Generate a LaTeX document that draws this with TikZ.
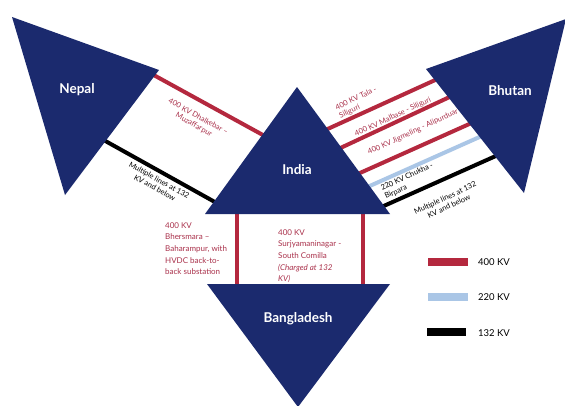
\documentclass[tikz,border=0pt]{standalone}
\usepackage{fontspec}
\setmainfont{Lato}
\definecolor{navy}{RGB}{27,42,110}
\definecolor{lred}{RGB}{180,40,62}
\definecolor{lblue}{RGB}{170,198,230}
\definecolor{tred}{RGB}{170,50,76}
\begin{document}
\begin{tikzpicture}[x=1pt,y=1pt,
  country/.style={fill=navy,draw=none},
  clabel/.style={text=white,font=\bfseries\fontsize{13.5}{15}\selectfont},
  l400/.style={draw=lred,line width=4pt},
  l220/.style={draw=lblue,line width=4pt},
  l132/.style={draw=black,line width=4pt},
  rtext/.style={text=tred,font=\fontsize{7.5}{9}\selectfont,inner sep=0pt},
  ktext/.style={text=black,font=\fontsize{7.5}{9}\selectfont,inner sep=0pt},
  btext/.style={text=tred,font=\fontsize{8}{11.7}\selectfont,inner sep=0pt,align=left,anchor=north west},
  legbar/.style={line width=8pt},
  legtext/.style={font=\fontsize{9.5}{11}\selectfont,anchor=west,inner sep=0pt}]
\useasboundingbox[fill=white] (0,0) rectangle (565,-405);

% endpoints of connectors
\coordinate (nr1) at (150,-73);  \coordinate (nr2) at (272,-140);
\coordinate (nk1) at (100,-138); \coordinate (nk2) at (222,-206);
\coordinate (b11) at (321,-132); \coordinate (b12) at (444,-76);
\coordinate (b21) at (334,-151); \coordinate (b22) at (456,-94);
\coordinate (b31) at (351,-177); \coordinate (b32) at (476,-121);
\coordinate (bb1) at (363,-189); \coordinate (bb2) at (484,-135);
\coordinate (bk1) at (377,-209); \coordinate (bk2) at (498,-155);
\coordinate (v11) at (237,-208); \coordinate (v12) at (237,-290);
\coordinate (v21) at (363,-208); \coordinate (v22) at (363,-290);

% connectors
\draw[l400] (nr1) -- (nr2);
\draw[l132] (nk1) -- (nk2);
\draw[l400] (b11) -- (b12);
\draw[l400] (b21) -- (b22);
\draw[l400] (b31) -- (b32);
\draw[l220] (bb1) -- (bb2);
\draw[l132] (bk1) -- (bk2);
\draw[l400] (v11) -- (v12);
\draw[l400] (v21) -- (v22);

% connector labels
\node[rtext,rotate=-29,align=center] (tnr) at (196,-121) {400 KV Dhalkebar --\\Muzaffarpur};
\node[ktext,rotate=-29,align=center] (tnk) at (157,-184) {Multiple lines at 132\\KV and below};
\node[rtext,rotate=25,align=left] (tb1) at (358,-103) {400 KV Tala -\\Siliguri};
\node[rtext,rotate=25] (tb2) at (393,-117) {400 KV Malbase - Siliguri};
\node[rtext,rotate=25] (tb3) at (413,-132) {400 KV Jigmeling - Alipurduar};
\node[ktext,rotate=25,align=left] (tbb) at (409,-181) {220 KV Chukha -\\Birpara};
\node[ktext,rotate=25,align=center] (tbk) at (447,-202) {Multiple lines at 132\\KV and below};
\node[btext] (tv1) at (165,-222) {400 KV\\Bhersmara --\\Baharampur, with\\HVDC back-to-\\back substation};
\node[btext] (tv2) at (278,-229) {400 KV\\Surjyamaninagar -\\South Comilla\\\textit{(Charged at 132}\\\textit{KV)}};

% countries
\path[country] (12,-17) -- (159,-70) -- (65,-195) -- cycle;
\path[country] (297,-87) -- (390,-214) -- (205,-214) -- cycle;
\path[country] (207,-284) -- (390,-284) -- (298,-407) -- cycle;
\path[country] (566,-19) -- (426,-69) -- (524,-193) -- cycle;
\node[clabel] (nepal) at (77,-90) {Nepal};
\node[clabel] (india) at (297,-170) {India};
\node[clabel] (bangladesh) at (298,-319) {Bangladesh};
\node[clabel] (bhutan) at (510,-91) {Bhutan};

% legend
\coordinate (r1) at (428,-262); \coordinate (r2) at (468,-262);
\coordinate (s1) at (428,-297); \coordinate (s2) at (468,-297);
\coordinate (k1) at (427,-332); \coordinate (k2) at (466,-332);
\draw[legbar,lred] (r1) -- (r2);
\draw[legbar,lblue] (s1) -- (s2);
\draw[legbar,black] (k1) -- (k2);
\node[legtext] (lg1) at (478,-262) {400 KV};
\node[legtext] (lg2) at (478,-297) {220 KV};
\node[legtext] (lg3) at (478,-333) {132 KV};
\end{tikzpicture}
\end{document}
